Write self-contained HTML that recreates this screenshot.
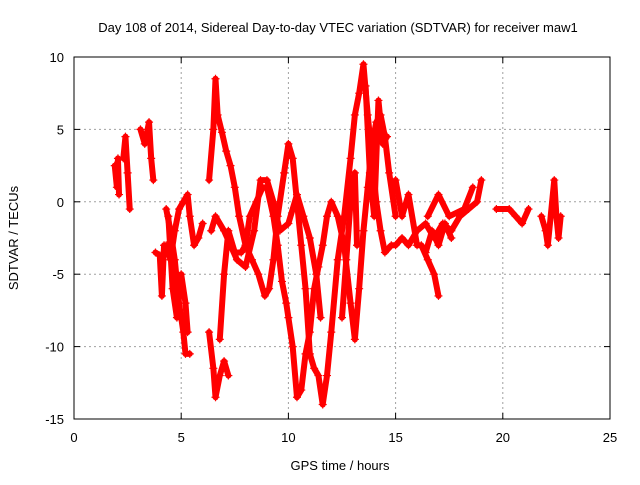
<!DOCTYPE html>
<html><head><meta charset="utf-8"><style>
html,body{margin:0;padding:0;background:#fff;}
svg text{font-family:"Liberation Sans",sans-serif;font-size:13px;fill:#000;}
</style></head><body>
<svg id="chart" width="640" height="480" xmlns="http://www.w3.org/2000/svg">
<text x="338" y="32" text-anchor="middle" font-size="14">Day 108 of 2014, Sidereal Day-to-day VTEC variation (SDTVAR) for receiver maw1</text>
<text x="340" y="470" text-anchor="middle">GPS time / hours</text>
<text transform="translate(18,238) rotate(-90)" text-anchor="middle">SDTVAR / TECUs</text>
<g id="grid"></g>
<g id="ticks"></g>
<g id="marks"></g>
<rect x="74" y="57" width="536" height="362" fill="none" stroke="#000" stroke-width="1"/>
</svg>
<script>
const xTicks=[0,5,10,15,20,25];
const yTicks=[-15,-10,-5,0,5,10];
const traceA=[[6.3,1.5],[6.5,5],[6.6,8.5],[6.7,6],[6.9,4.8],[7.1,3.5],[7.3,2.5],[7.5,1],[7.7,-1],[8.0,-3],[8.3,-4],[8.6,-5],[8.9,-6.5],[9.1,-6],[9.3,-4],[9.5,-1],[9.8,2],[10.0,4],[10.2,3],[10.4,0],[10.6,-3],[10.8,-6],[11.0,-10.5],[11.2,-11.5],[11.4,-12],[11.6,-14],[11.8,-12],[12.0,-9],[12.3,-4],[12.6,-1],[12.9,3],[13.1,6],[13.3,7.5],[13.5,9.5],[13.7,6],[13.9,3],[14.1,0],[14.3,-2],[14.5,-3.5],[14.8,-3],[15.0,-3],[15.3,-2.5],[15.6,-3],[16.0,-2],[16.4,-1.5],[16.8,-2.5],[17.2,-1.5],[17.6,-2],[18.0,-1],[18.4,-0.5],[18.8,0],[19.0,1.5]];
const traceB=[[6.8,-9.5],[7.0,-5],[7.2,-2],[7.5,-3.5],[7.8,-3.5],[8.0,-3],[8.2,-1],[8.5,0],[8.8,1],[9.0,1],[9.3,-1],[9.5,-3],[9.7,-5.5],[9.9,-7],[10.0,-8],[10.2,-10],[10.4,-13.5],[10.6,-13],[10.8,-10.5],[11.0,-9],[11.2,-6],[11.4,-4.5],[11.6,-3],[11.8,-1],[12.0,0],[12.3,-1],[12.6,-3],[12.9,-7],[13.1,-9.5],[13.3,-6],[13.5,-2],[13.7,1],[13.9,4],[14.1,5.5],[14.3,6],[14.5,4.5],[14.7,2],[15.0,-1]];
const traceC=[[6.3,-9],[6.5,-11.5],[6.6,-13.5],[6.8,-12],[7.0,-11],[7.2,-12]];
const traceD=[[6.4,-2],[6.6,-1],[7.0,-2],[7.3,-3],[7.6,-4],[8.0,-4.5],[8.4,-2],[8.7,1.5],[9.0,1.5],[9.3,0],[9.6,-2],[10.0,-1.5],[10.4,0.5],[10.7,-1],[11.0,-2.5],[11.3,-5],[11.5,-8]];
const traceE=[[4.3,-0.5],[4.5,-2],[4.7,-4],[4.9,-7],[5.1,-9],[5.2,-10.5],[5.4,-10.5]];
const traceF=[[4.3,-3],[4.5,-4],[4.7,-2],[4.9,-0.5],[5.1,0],[5.3,0.5],[5.4,-1],[5.6,-3],[5.8,-2.5],[6.0,-1.5]];
const traceG=[[1.9,2.5],[2.0,1],[2.05,3],[2.1,0.5]];
const traceH=[[2.3,3],[2.4,4.5],[2.5,2],[2.6,-0.5]];
const traceI=[[3.1,5],[3.3,4],[3.5,5.5],[3.6,3],[3.7,1.5]];
const traceJ=[[3.8,-3.5],[4.0,-3.7],[4.1,-6.5],[4.2,-3]];
const traceK=[[15.0,1.5],[15.3,-1],[15.6,0.5],[16.0,-3],[16.2,-3],[16.5,-4],[16.8,-5],[17.0,-6.5]];
const traceL=[[16.5,-1],[17.0,0.5],[17.5,-1],[18.2,-0.5],[18.6,1]];
const traceM=[[19.7,-0.5],[20.3,-0.5],[20.6,-1],[20.9,-1.5],[21.2,-0.5]];
const traceN=[[21.8,-1],[22.0,-2],[22.1,-3],[22.4,1.5],[22.5,-1],[22.6,-2.5],[22.7,-1]];
const traceO=[[13.6,8],[13.8,2],[14.0,-1],[14.2,7],[14.4,4],[14.6,4.5]];
const traceP=[[12.5,-8],[12.7,-4],[12.9,0],[13.1,2],[13.2,-3]];
const traceQ=[[4.4,-1],[4.6,-6],[4.8,-8],[5.0,-5],[5.2,-7],[5.3,-9]];
const traceR=[[16.4,-3.5],[16.7,-2],[17.0,-3],[17.3,-1.5],[17.6,-2.5]];
const traces=[traceA,traceB,traceC,traceD,traceE,traceF,traceG,traceH,traceI,traceJ,traceK,traceL,traceM,traceN,traceO,traceP,traceQ,traceR];
const X=h=>74+h*536/25, Y=v=>57+(10-v)*362/25;
const NS="http://www.w3.org/2000/svg";
const g=document.getElementById('grid'), t=document.getElementById('ticks'), m=document.getElementById('marks');
function mk(tag,at,par){const e=document.createElementNS(NS,tag);for(const k in at)e.setAttribute(k,at[k]);par.appendChild(e);return e;}
xTicks.forEach(v=>{const x=X(v);
 if(v>0&&v<25){const l=mk('line',{x1:x,x2:x,y1:57,y2:419,stroke:'#a0a0a0','stroke-dasharray':'2,3'},g);}
 mk('line',{x1:x,x2:x,y1:419,y2:413,stroke:'#000'},t);mk('line',{x1:x,x2:x,y1:57,y2:63,stroke:'#000'},t);
 const tx=mk('text',{x:x,y:442,'text-anchor':'middle'},t);tx.textContent=v;});
yTicks.forEach(v=>{const y=Y(v);
 if(v>-15&&v<10){const l=mk('line',{x1:74,x2:610,y1:y,y2:y,stroke:'#a0a0a0','stroke-dasharray':'2,3'},g);}
 mk('line',{x1:74,x2:80,y1:y,y2:y,stroke:'#000'},t);mk('line',{x1:610,x2:604,y1:y,y2:y,stroke:'#000'},t);
 const tx=mk('text',{x:64,y:y+5,'text-anchor':'end'},t);tx.textContent=v;});
traces.forEach(tr=>{
 const pl=mk('polyline',{points:tr.map(p=>X(p[0])+','+Y(p[1])).join(' '),fill:'none',stroke:'#f00','stroke-width':6,'stroke-linejoin':'round','stroke-linecap':'round'},m);
 
 tr.forEach(p=>{const x=X(p[0]),y=Y(p[1]);
  const pt=mk('path',{d:`M${x-4},${y}h8M${x},${y-4}v8`,stroke:'#f00','stroke-width':1.2},m);
  });
});
</script>
</body></html>
